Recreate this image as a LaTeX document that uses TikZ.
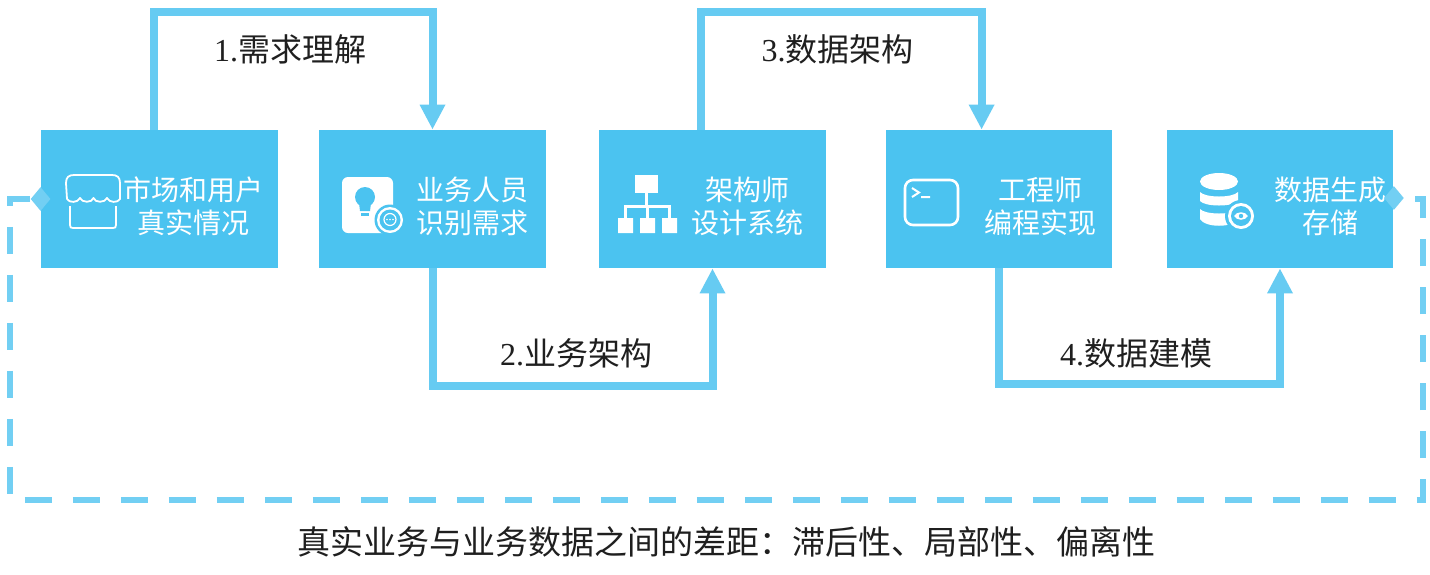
\documentclass[tikz,border=0pt]{standalone}
\usepackage{fontspec}
\setmainfont{Liberation Serif}
\newfontfamily\cjk{Noto Sans CJK SC}
\usetikzlibrary{arrows.meta,calc,shapes.geometric}
\definecolor{boxblue}{HTML}{4BC3F0}
\definecolor{lineblue}{HTML}{66CBF2}
\definecolor{dashblue}{HTML}{72CFF3}
\tikzset{
 box/.style={fill=boxblue, draw=none, inner sep=0pt, minimum height=69pt},
 boxtext/.style={text=white, font=\cjk\fontsize{14}{16.5}\selectfont, align=center, inner sep=0pt},
 conn/.style={draw=lineblue, line width=4pt, -{Triangle[length=12.5pt,width=12pt]}},
 steplabel/.style={font=\fontsize{16}{18}\selectfont, text=black!88, inner sep=0pt},
 marker/.style={shape=diamond, fill=dashblue, draw=none, inner sep=0pt, minimum width=10pt, minimum height=12pt},
 loopline/.style={draw=dashblue, line width=3pt, dash pattern=on 13.5pt off 10.5pt},
 captext/.style={font=\cjk\fontsize{16.5}{18}\selectfont, text=black!88, inner sep=0pt}
}
\begin{document}
\begin{tikzpicture}[x=0.5pt,y=-0.5pt]
\useasboundingbox[fill=white] (0,0) rectangle (1430,574);
% boxes
\node[box, minimum width=118.5pt] (b1) at (159.5,199) {};
\node[box, minimum width=113.5pt] (b2) at (432.5,199) {};
\node[box, minimum width=113.5pt] (b3) at (712.5,199) {};
\node[box, minimum width=113pt] (b4) at (998.5,199) {};
\node[box, minimum width=113pt] (b5) at (1280,199) {};
% box texts
\node[boxtext] (t1) at (193,206.5) {市场和用户\\真实情况};
\node[boxtext] (t2) at (472,206.5) {业务人员\\识别需求};
\node[boxtext] (t3) at (747,206.5) {架构师\\设计系统};
\node[boxtext] (t4) at (1040,206.5) {工程师\\编程实现};
\node[boxtext] (t5) at (1330,206.5) {数据生成\\存储};
% connectors
\draw[conn] ($(b1.north west)+(113,0)$) |- ($(b2.north)+(0,-118)$) -- (b2.north);
\draw[conn] (b2.south) |- ($(b3.south)+(0,118)$) -- (b3.south);
\draw[conn] ($(b3.north west)+(102.5,0)$) |- ($(b4.north west)+(96.5,-118)$) -- ($(b4.north west)+(96.5,0)$);
\draw[conn] (b4.south) |- ($(b5.south)+(0,116)$) -- (b5.south);
% labels
\node[steplabel] (l1) at (290,49) {1.{\cjk 需求理解}};
\node[steplabel] (l2) at (576,353) {2.{\cjk 业务架构}};
\node[steplabel] (l3) at (837.5,49) {3.{\cjk 数据架构}};
\node[steplabel] (l4) at (1136,353) {4.{\cjk 数据建模}};
% feedback loop
\node[marker] (d1) at (b1.west) {};
\node[marker] (d5) at ($(b5.east)+(0.5,-1)$) {};
\coordinate (cl) at (10,500);
\coordinate (cr) at (1423,500);
\draw[loopline] (d1.west |- b1.west) -| (cl) -- (cr) |- (d5.east |- b5.east);
% caption
\node[captext] (cap) at (726,542) {真实业务与业务数据之间的差距：滞后性、局部性、偏离性};
% icon 1: shop
\draw[white, line width=0.9pt, line join=round] (67,199) -- (66,183) .. controls (66,177) and (69,175) .. (74,175) -- (112,175) .. controls (117,175) and (120,177) .. (120,183) -- (120,199) .. controls (118,203) and (109,203) .. (107,198) .. controls (105,203) and (95,203) .. (93.5,198) .. controls (92,203) and (82,203) .. (80,198) .. controls (78,203) and (69,203) .. (67,199);
\draw[white, line width=0.9pt] (70,206) -- (70,225) .. controls (70,227.5) and (71,228) .. (73,228) -- (113,228) .. controls (115,228) and (116,227.5) .. (116,225) -- (116,206);
% icon 2: bulb + chat
\fill[white, rounded corners=3] (342,177) rectangle (393,233);
\fill[boxblue] (365,197) circle[radius=10];
\fill[boxblue] (359,203) -- (371,203) -- (370,211) -- (360,211) -- cycle;
\fill[boxblue] (361,213) rectangle (369,216);
\fill[boxblue] (390,220) circle[radius=15.5];
\fill[white] (390,220) circle[radius=13];
\fill[boxblue] (390,220) circle[radius=10.5];
\draw[white, line width=0.6pt] (390,219.5) circle[radius=6];
\fill[white] (387,219.5) circle[radius=0.9] (390,219.5) circle[radius=0.9] (393,219.5) circle[radius=0.9];
% icon 3: org chart
\fill[white] (635,175) rectangle (658,193);
\draw[white, line width=1.5pt] (646.5,193) -- (646.5,206) (625.5,218) -- (625.5,206) -- (669.5,206) -- (669.5,218) (647.5,206) -- (647.5,218);
\fill[white] (618,218) rectangle (633,233) (640,218) rectangle (655,233) (662,218) rectangle (677,233);
% icon 4: terminal
\draw[white, line width=1.3pt, rounded corners=4] (905,180) rectangle (958,225);
\draw[white, line width=1pt] (912,188) -- (919,192.5) -- (912,197) (921,197) -- (930,197);
% icon 5: database
\fill[white] (1219,181.5) ellipse[x radius=19, y radius=8.5];
\fill[white] (1200,192) .. controls (1205,198) and (1233,198) .. (1238,192) -- (1238,201) .. controls (1233,207) and (1205,207) .. (1200,201) -- cycle;
\fill[white] (1200,209) .. controls (1205,215) and (1233,215) .. (1238,209) -- (1238,219) .. controls (1233,228) and (1205,228) .. (1200,219) -- cycle;
\fill[boxblue] (1241,216) circle[radius=16];
\fill[white] (1241,216) circle[radius=13];
\fill[boxblue] (1241,216) circle[radius=10];
\fill[white] (1234,216) .. controls (1237,211) and (1245,211) .. (1248,216) .. controls (1245,221) and (1237,221) .. (1234,216) -- cycle;
\fill[boxblue] (1241,216) circle[radius=2.2];
\end{tikzpicture}
\end{document}
